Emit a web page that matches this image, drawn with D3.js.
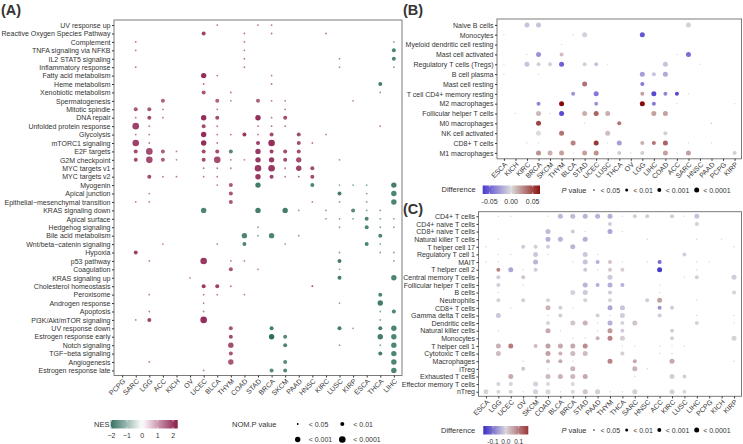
<!DOCTYPE html>
<html>
<head>
<meta charset="utf-8">
<title>GSEA and immune infiltration dot plots</title>
<script src="https://d3js.org/d3.v7.min.js"></script>
<style>
  body { margin: 0; background: #fff; }
  svg text { font-family: "Liberation Sans", Arial, sans-serif; fill: #333; }
</style>
</head>
<body>
<div id="chart"></div>
<script>

// ---- panel A: hallmark GSEA (NES, NOM p) ----
const hallmarks = ["UV response up","Reactive Oxygen Species Pathway","Complement","TNFA signaling via NFKB",
  "IL2 STAT5 signaling","Inflammatory response","Fatty acid metabolism","Heme metabolism","Xenobiotic metabolism",
  "Spermatogenesis","Mitotic spindle","DNA repair","Unfolded protein response","Glycolysis","mTORC1 signaling",
  "E2F targets","G2M checkpoint","MYC targets v1","MYC targets v2","Myogenin","Apical junction",
  "Epithelial\u2212mesenchymal transition","KRAS signaling down","Apical surface","Hedgehog signaling",
  "Bile acid metabolism","Wnt/beta\u2212catenin signaling","Hypoxia","p53 pathway","Coagulation","KRAS signaling up",
  "Cholesterol homeostasis","Peroxisome","Androgen response","Apoptosis","PI3K/Akt/mTOR signaling","UV response down",
  "Estrogen response early","Notch signaling","TGF\u2212beta signaling","Angiogenesis","Estrogen response late"];
const nesCancers = ["PCPG","SARC","LGG","ACC","KICH","OV","UCEC","BLCA","THYM","COAD","STAD","BRCA","SKCM",
  "PAAD","HNSC","KIRC","LUSC","KIRP","ESCA","THCA","LIHC"];
// [pathway index, cancer, NES, p class 1:<0.05 2:<0.01 3:<0.001 4:<0.0001]
const nesPoints = [
  [0,"BLCA",1.4,1],[0,"STAD",1.4,1],[0,"BRCA",1.4,1],
  [1,"UCEC",1.9,2],[1,"COAD",1.4,1],[1,"BRCA",1.4,1],[1,"KIRC",1.4,1],
  [2,"SARC",1.4,1],[2,"COAD",1.4,1],[2,"LIHC",-1.3,1],
  [3,"SARC",1.4,1],[3,"COAD",1.4,1],[3,"LIHC",-1.8,2],
  [4,"COAD",1.4,1],[4,"LUSC",-1.3,1],[4,"LIHC",-1.8,2],
  [5,"SARC",1.4,1],[5,"COAD",1.4,1],[5,"LUSC",-1.3,1],[5,"LIHC",-1.3,1],
  [6,"UCEC",2.1,3],[6,"BLCA",1.4,1],[6,"BRCA",1.4,1],
  [7,"UCEC",1.5,1],[7,"BRCA",1.4,1],[7,"THCA",-1.9,2],
  [8,"UCEC",1.7,2],[8,"THYM",1.4,1],[8,"THCA",-1.3,1],
  [9,"ACC",1.6,2],[9,"BLCA",1.6,2],[9,"THYM",1.3,1],[9,"STAD",1.6,2],[9,"BRCA",1.4,1],[9,"SKCM",1.4,1],[9,"KIRP",1.3,1],
  [10,"SARC",1.7,2],[10,"LGG",1.7,2],[10,"ACC",1.4,1],[10,"BLCA",1.4,1],[10,"SKCM",1.4,1],
  [11,"SARC",1.4,1],[11,"LGG",1.8,2],[11,"ACC",1.4,1],[11,"UCEC",2.1,3],[11,"BLCA",1.8,2],[11,"STAD",2.1,3],[11,"BRCA",1.4,1],[11,"SKCM",1.8,2],
  [12,"SARC",1.9,4],[12,"LGG",1.4,1],[12,"UCEC",1.8,2],[12,"BLCA",1.4,1],[12,"STAD",1.4,1],[12,"BRCA",1.4,1],[12,"SKCM",1.4,1],[12,"THCA",1.3,1],
  [13,"SARC",1.4,1],[13,"LGG",1.4,1],[13,"UCEC",2.1,3],[13,"BLCA",1.4,1],[13,"THYM",1.4,1],[13,"COAD",2.0,2],[13,"STAD",1.4,1],[13,"BRCA",1.8,2],[13,"PAAD",1.8,2],[13,"KIRC",1.3,1],
  [14,"SARC",1.9,4],[14,"LGG",1.4,1],[14,"UCEC",2.1,3],[14,"BLCA",1.4,1],[14,"STAD",1.9,2],[14,"BRCA",2.1,4],[14,"PAAD",1.8,2],[14,"HNSC",1.4,1],
  [15,"SARC",1.8,2],[15,"LGG",1.8,4],[15,"ACC",1.6,2],[15,"KICH",1.3,1],[15,"UCEC",1.8,2],[15,"BLCA",1.8,2],[15,"THYM",-1.7,2],[15,"STAD",2.0,3],[15,"BRCA",1.9,2],[15,"SKCM",1.8,2],[15,"PAAD",1.8,2],
  [16,"SARC",1.8,2],[16,"LGG",1.8,4],[16,"ACC",1.6,2],[16,"KICH",1.3,1],[16,"UCEC",1.8,2],[16,"BLCA",1.8,4],[16,"THYM",1.3,1],[16,"COAD",1.3,1],[16,"STAD",2.0,3],[16,"BRCA",2.0,3],[16,"SKCM",1.8,2],[16,"PAAD",1.8,3],[16,"LUSC",1.3,1],
  [17,"UCEC",1.4,1],[17,"BLCA",1.4,1],[17,"THYM",1.3,1],[17,"STAD",2.0,4],[17,"BRCA",2.0,4],[17,"SKCM",1.4,1],[17,"PAAD",1.9,3],[17,"HNSC",1.8,2],
  [18,"LGG",1.8,2],[18,"ACC",1.4,1],[18,"KICH",1.4,1],[18,"UCEC",1.4,1],[18,"BLCA",1.4,1],[18,"STAD",2.0,3],[18,"BRCA",1.9,2],[18,"SKCM",1.4,1],[18,"PAAD",1.5,1],[18,"HNSC",1.8,2],
  [19,"BLCA",1.3,1],[19,"THYM",1.7,2],[19,"STAD",-1.9,3],[19,"HNSC",-1.8,2],[19,"LUSC",-1.3,1],[19,"KIRP",-1.3,1],[19,"ESCA",-1.3,1],[19,"LIHC",-1.9,3],
  [20,"LGG",1.3,1],[20,"THYM",1.7,2],[20,"LUSC",-1.9,2],[20,"ESCA",-1.3,1],[20,"LIHC",-1.8,3],
  [21,"SARC",1.3,1],[21,"LGG",1.3,1],[21,"THYM",1.7,2],[21,"HNSC",1.3,1],[21,"LUSC",-1.3,1],[21,"ESCA",-1.3,1],[21,"LIHC",-1.8,3],
  [22,"UCEC",-1.8,3],[22,"STAD",-1.9,3],[22,"SKCM",-1.9,3],[22,"PAAD",-1.3,1],[22,"KIRC",-1.3,1],[22,"KIRP",-1.7,2],[22,"ESCA",-1.3,1],[22,"THCA",-1.3,1],
  [23,"KIRC",-1.3,1],[23,"LUSC",-1.3,1],[23,"KIRP",-1.3,1],[23,"ESCA",-1.8,2],[23,"THCA",-1.3,1],[23,"LIHC",-1.3,1],
  [24,"STAD",-1.3,1],[24,"LUSC",-1.3,1],[24,"ESCA",-1.8,2],[24,"THCA",-1.3,1],[24,"LIHC",-1.3,1],
  [25,"COAD",-1.8,3],[25,"STAD",-1.3,1],[25,"BRCA",-1.8,3],[25,"PAAD",-1.3,1],[25,"THCA",-1.8,2],
  [26,"ACC",1.3,1],[26,"BLCA",1.3,1],[26,"COAD",-1.8,2],[26,"SKCM",-1.3,1],[26,"ESCA",-1.8,2],[26,"THCA",-1.3,1],
  [27,"SARC",1.9,2],[27,"LUSC",-1.3,1],[27,"THCA",-1.3,1],[27,"LIHC",-1.3,1],
  [28,"LGG",1.3,1],[28,"UCEC",2.0,4],[28,"THYM",1.3,1],[28,"COAD",1.3,1],[28,"LUSC",-1.9,2],[28,"LIHC",-1.3,1],
  [29,"THYM",1.7,2],[29,"STAD",1.3,1],[29,"LUSC",-1.3,1],
  [30,"OV",1.3,1],[30,"LUSC",-1.9,2],[30,"LIHC",-1.8,3],
  [31,"UCEC",2.0,2],[31,"BLCA",1.9,2],[31,"THYM",1.4,1],[31,"HNSC",1.9,1],
  [32,"LGG",1.3,1],[32,"UCEC",1.4,1],[32,"BLCA",1.3,1],[32,"COAD",1.3,1],[32,"THCA",-1.8,2],
  [33,"UCEC",1.4,1],[33,"LUSC",-1.3,1],[33,"THCA",-1.9,3],
  [34,"LGG",1.3,1],[34,"UCEC",1.3,1],[34,"THCA",-1.3,1],[34,"LIHC",-1.8,2],
  [35,"SARC",1.3,1],[35,"LGG",1.9,2],[35,"UCEC",2.1,4],[35,"THCA",-1.3,1],
  [36,"THYM",1.7,2],[36,"BRCA",-1.9,2],[36,"LUSC",-1.9,2],[36,"KIRP",-1.3,1],[36,"THCA",-1.9,2],[36,"LIHC",-1.8,3],
  [37,"THYM",1.8,2],[37,"BRCA",-2.1,3],[37,"SKCM",-1.7,2],[37,"THCA",-1.9,3],[37,"LIHC",-1.8,3],
  [38,"THYM",1.8,3],[38,"SKCM",-1.8,2],[38,"LUSC",-1.3,1],[38,"THCA",-1.3,1],[38,"LIHC",-1.8,3],
  [39,"THYM",1.7,2],[39,"THCA",-1.9,2],[39,"LIHC",-1.8,3],
  [40,"LGG",1.3,1],[40,"THYM",1.7,3],[40,"SKCM",-1.7,2],[40,"LIHC",-1.8,3],
  [41,"UCEC",1.3,1],[41,"BRCA",-1.7,2],[41,"SKCM",-1.7,2],[41,"LIHC",-1.8,3]
];
const nesTicks = [-2,-1,0,1,2];
const pLabels = ["< 0.05","< 0.01","< 0.001","< 0.0001"];

// ---- panel B: CIBERSORT difference ----
const cibersortCells = ["Naive B cells","Monocytes","Myeloid dendritic cell resting","Mast cell activated",
  "Regulatory T cells (Tregs)","B cell plasma","Mast cell resting","T cell CD4+ memory resting","M2 macrophages",
  "Follicular helper T cells","M0 macrophages","NK cell activated","CD8+ T cells","M1 macrophages"];
const cibersortCancers = ["ESCA","KICH","KIRC","BRCA","SKCM","THYM","BLCA","STAD","UCEC","LUSC","THCA","OV",
  "LGG","LIHC","COAD","ACC","SARC","HNSC","PAAD","PCPG","KIRP"];
const cibersortPoints = [
  [0,"KIRC",-0.01,4],[0,"BRCA",-0.01,4],[0,"SARC",-0.005,4],
  [1,"ESCA",0,1],[1,"BLCA",0,1],[1,"STAD",-0.005,4],[1,"LGG",-0.055,4],
  [2,"THYM",0,1],
  [3,"KIRC",0,1],[3,"BRCA",-0.03,4],[3,"THYM",0.01,3],[3,"ACC",0,1],[3,"SARC",-0.045,4],
  [4,"ESCA",0,1],[4,"KIRC",-0.01,4],[4,"BRCA",-0.005,3],[4,"SKCM",-0.005,3],[4,"THYM",-0.05,4],[4,"STAD",-0.005,3],[4,"UCEC",-0.01,3],[4,"LUSC",0,1],[4,"COAD",-0.01,4],[4,"HNSC",0,1],
  [5,"ESCA",0,1],[5,"BRCA",0,1],[5,"LGG",-0.025,4],[5,"LIHC",-0.01,3],[5,"COAD",-0.02,4],
  [6,"STAD",0.035,4],[6,"LGG",-0.04,3],
  [7,"BLCA",-0.03,3],[7,"UCEC",-0.04,4],[7,"LGG",0.02,3],[7,"LIHC",-0.06,4],[7,"COAD",-0.035,3],[7,"ACC",-0.06,3],[7,"SARC",0,1],
  [8,"BRCA",-0.035,3],[8,"THYM",0.07,4],[8,"UCEC",-0.03,3],[8,"LGG",0.07,4],[8,"LIHC",-0.04,3],[8,"ACC",0,1],[8,"KIRP",0,1],
  [9,"KICH",0,1],[9,"BRCA",0.012,4],[9,"SKCM",0,1],[9,"THYM",-0.06,4],[9,"STAD",0.015,4],[9,"UCEC",0.04,4],[9,"LUSC",0.015,4],[9,"LIHC",0.02,4],[9,"COAD",0.02,4],
  [10,"BRCA",0.05,4],[10,"STAD",0,1],[10,"THCA",0.035,3],[10,"PAAD",0.01,1],
  [11,"BRCA",0,4],[11,"THYM",0.035,4],[11,"LUSC",0.01,4],[11,"COAD",0.005,3],
  [12,"KIRC",0,1],[12,"BRCA",0,1],[12,"BLCA",0.03,4],[12,"UCEC",0.055,4],[12,"LUSC",0,1],[12,"THCA",-0.025,4],[12,"LGG",0.015,3],[12,"LIHC",0.035,3],[12,"COAD",0.04,4],[12,"SARC",0,1],[12,"PAAD",0,1],
  [13,"BRCA",0.025,4],[13,"SKCM",0.015,4],[13,"THYM",0.02,4],[13,"BLCA",0,1],[13,"STAD",0.02,4],[13,"UCEC",0.025,4],[13,"LUSC",0,1],[13,"THCA",0.005,3],[13,"OV",0,1],[13,"LGG",0.005,3],[13,"COAD",0.02,4],[13,"ACC",0,1],[13,"SARC",0.02,4],[13,"KIRP",0.005,3]
];
const diffTicksB = [-0.05,0,0.05];

// ---- panel C: immune cell (ImmuCellAI) difference ----
const immuneCells = ["CD4+ T cells","CD4+ naive T cells","CD8+ naive T cells","Natural killer T cells",
  "T helper cell 17","Regulatory T cell 1","MAIT","T helper cell 2","Central memory T cells",
  "Follicular helper T cells","B cells","Neutrophils","CD8+ T cells","Gamma delta T cells","Dendritic cells",
  "Natural killer cells","Monocytes","T helper cell 1","Cytotoxic T cells","Macrophages","iTreg",
  "Exhausted T cells","Effector memory T cells","nTreg"];
const immuneCancers = ["ESCA","LGG","UCEC","OV","SKCM","COAD","BLCA","BRCA","STAD","PAAD","THYM","THCA",
  "SARC","HNSC","ACC","KIRC","LUSC","LIHC","PCPG","KICH","KIRP"];
const immunePoints = [
  [0,"LGG",0,1],[0,"UCEC",0,1],[0,"COAD",0,1],[0,"BLCA",-0.03,4],[0,"BRCA",-0.03,4],[0,"STAD",-0.035,4],[0,"PAAD",-0.035,4],[0,"THYM",-0.04,4],[0,"THCA",0,1],[0,"SARC",-0.01,3],[0,"HNSC",-0.01,3],[0,"KIRC",-0.01,3],[0,"LUSC",0,1],[0,"LIHC",-0.02,4],
  [1,"THYM",-0.01,3],[1,"LIHC",0.01,3],
  [2,"COAD",-0.03,4],[2,"BRCA",-0.01,3],[2,"STAD",0,1],[2,"THYM",-0.05,4],[2,"THCA",0,1],
  [3,"LGG",0,1],[3,"COAD",-0.04,4],[3,"BLCA",-0.035,4],[3,"STAD",-0.04,4],[3,"HNSC",0,1],[3,"LIHC",0,1],[3,"KICH",0,1],
  [4,"ESCA",0,1],[4,"OV",-0.01,3],[4,"SKCM",-0.01,3],[4,"COAD",-0.01,3],[4,"BRCA",-0.035,4],[4,"KIRP",0,1],
  [5,"LGG",0,1],[5,"UCEC",0,1],[5,"SKCM",-0.015,4],[5,"COAD",0,1],[5,"STAD",-0.015,4],[5,"PAAD",0,1],[5,"LUSC",-0.01,3],
  [6,"ESCA",0,1],[6,"LGG",0,1],[6,"SKCM",-0.035,4],[6,"BRCA",0,1],[6,"STAD",-0.02,4],[6,"PAAD",-0.04,3],[6,"THYM",0.02,3],[6,"THCA",0,1],[6,"HNSC",0,1],[6,"ACC",-0.11,3],[6,"LIHC",0,1],[6,"PCPG",0,1],
  [7,"LGG",0.09,3],[7,"UCEC",-0.05,4],[7,"OV",0,1],[7,"SKCM",-0.01,3],[7,"STAD",-0.015,3],[7,"PAAD",0,1],[7,"THYM",0.02,3],[7,"THCA",0.01,3],[7,"ACC",-0.16,4],[7,"LIHC",0,1],
  [8,"LGG",-0.01,3],[8,"OV",0.02,3],[8,"THYM",-0.015,4],[8,"LUSC",0,1],[8,"LIHC",0.01,3],[8,"KIRP",-0.01,4],
  [9,"LGG",-0.01,3],[9,"OV",0,1],[9,"STAD",-0.035,4],[9,"PAAD",-0.04,3],[9,"THYM",-0.04,4],[9,"THCA",-0.04,3],[9,"ACC",0,1],
  [10,"LGG",0,1],[10,"BRCA",-0.005,4],[10,"STAD",-0.015,4],[10,"THYM",-0.01,3],[10,"ACC",0,1],[10,"KIRP",-0.005,3],
  [11,"LGG",-0.005,3],[11,"OV",0.01,3],[11,"COAD",-0.005,3],[11,"STAD",-0.005,3],[11,"THYM",-0.005,3],[11,"HNSC",-0.01,3],[11,"ACC",0.06,4],[11,"LIHC",0,1],
  [12,"UCEC",0,1],[12,"COAD",0.04,4],[12,"BLCA",-0.01,3],[12,"BRCA",0,1],[12,"THYM",-0.05,4],[12,"THCA",-0.02,4],[12,"ACC",-0.07,3],[12,"KIRC",-0.01,3],
  [13,"LGG",-0.015,4],[13,"COAD",0,1],[13,"BLCA",-0.01,3],[13,"PAAD",0.01,3],[13,"THYM",0,1],[13,"THCA",-0.01,4],[13,"ACC",-0.01,3],[13,"LIHC",0,1],[13,"KIRP",0,1],
  [14,"COAD",-0.005,3],[14,"BRCA",0.02,4],[14,"STAD",0.04,4],[14,"PAAD",0,1],[14,"THYM",-0.04,4],[14,"THCA",-0.005,3],[14,"SARC",0.02,4],[14,"LIHC",-0.005,3],[14,"KIRP",0,1],
  [15,"LGG",0,1],[15,"COAD",0.05,4],[15,"BLCA",0,1],[15,"PAAD",0,1],[15,"THYM",0.07,4],[15,"THCA",-0.01,3],[15,"KIRC",0.01,3],
  [16,"BRCA",0,1],[16,"STAD",0,1],[16,"PAAD",0.04,3],[16,"THYM",0.09,4],[16,"THCA",0.01,4],[16,"KIRC",0.005,3],[16,"KIRP",0.005,4],
  [17,"LGG",0.04,4],[17,"UCEC",0.1,4],[17,"SKCM",0.03,3],[17,"COAD",0.06,4],[17,"BLCA",0.05,4],[17,"BRCA",0.05,4],[17,"STAD",0.08,4],[17,"THCA",0,1],[17,"SARC",0,1],[17,"ACC",0,1],[17,"KIRC",0,1],[17,"LUSC",0,1],
  [18,"LGG",0.03,4],[18,"COAD",0.06,4],[18,"BLCA",0.04,3],[18,"BRCA",0.03,4],[18,"STAD",0.03,4],[18,"THCA",0.01,3],[18,"ACC",0,1],[18,"KIRC",0,1],
  [19,"OV",0,1],[19,"COAD",0.04,3],[19,"BLCA",0.05,3],[19,"BRCA",0,1],[19,"THYM",0.09,4],[19,"SARC",0.05,3],[19,"KIRC",0.05,4],[19,"KIRP",0,1],
  [20,"OV",0.02,3],[20,"COAD",0,1],[20,"BRCA",0.04,4],[20,"SARC",0.04,4],[20,"HNSC",0,1],
  [21,"UCEC",0.05,4],[21,"COAD",0.03,4],[21,"BLCA",0.04,4],[21,"BRCA",0.035,4],[21,"STAD",0.05,4],[21,"SARC",0,1],[21,"KIRC",0.01,4],[21,"LUSC",0.01,3],
  [22,"LGG",-0.005,3],[22,"UCEC",0.005,3],[22,"SKCM",-0.005,4],[22,"COAD",0,3],[22,"BRCA",0,3],
  [23,"ESCA",-0.005,4],[23,"LGG",0,3],[23,"UCEC",0.005,3],[23,"OV",0,1],[23,"SKCM",-0.005,4],[23,"COAD",0,4],[23,"BLCA",0,1],[23,"BRCA",0,3],[23,"STAD",0.02,4],[23,"PAAD",0.01,4],[23,"THYM",0,1],[23,"THCA",0,1],[23,"SARC",0.01,4],[23,"KIRC",0.005,4],[23,"LUSC",0,3]
];
const diffTicksC = [-0.1,0,0.1];

const width = 743, height = 444;
const svg = d3.select("#chart").append("svg")
    .attr("width", width)
    .attr("height", height);

const nesColor = d3.scaleLinear().domain([-2.1, 0, 2.3]).range(["#2f6f5f", "#ffffff", "#8a1a4a"]);
const diffColorB = d3.scaleLinear().domain([-0.066, 0, 0.067]).range(["#4a3bd0", "#dcdcdc", "#8b1212"]);
const diffColorC = d3.scaleLinear().domain([-0.175, 0, 0.175]).range(["#3a2cc6", "#d9d7dc", "#9a3636"]);
const radiusA = d3.scaleOrdinal().domain([1,2,3,4]).range([0.9, 2.0, 2.7, 3.3]);
const radiusBC = d3.scaleOrdinal().domain([1,2,3,4]).range([0.75, 1.5, 2.0, 2.5]);

function dotPanel(rows, cols, points, box, color, radius) {
  const x = d3.scalePoint().domain(cols).range([box.x0, box.x1]).padding(0.6);
  const y = d3.scalePoint().domain(rows).range([box.y0, box.y1]).padding(0.6);
  const g = svg.append("g");

  g.append("rect")
      .attr("x", box.x0).attr("y", box.y0)
      .attr("width", box.x1 - box.x0).attr("height", box.y1 - box.y0)
      .attr("fill", "#fff").attr("stroke", "#6e6e6e").attr("stroke-width", 0.9);

  const left = g.append("g")
      .attr("transform", `translate(${box.x0},0)`)
      .call(d3.axisLeft(y).tickSize(2).tickPadding(1.5));
  left.select(".domain").remove();
  left.selectAll("line").attr("stroke", "#333");
  left.selectAll("text").attr("font-size", 7).attr("fill", "#333");

  const bottom = g.append("g")
      .attr("transform", `translate(0,${box.y1})`)
      .call(d3.axisBottom(x).tickSize(2));
  bottom.select(".domain").remove();
  bottom.selectAll("line").attr("stroke", "#333");
  bottom.selectAll("text")
      .attr("font-size", 7).attr("fill", "#333")
      .attr("x", 0).attr("y", 0).attr("dy", "0.35em")
      .attr("text-anchor", "end")
      .attr("transform", "translate(1.5,4.5) rotate(-45)");

  g.append("g").selectAll("circle")
    .data(points)
    .join("circle")
      .attr("cx", d => x(d[1]))
      .attr("cy", d => y(rows[d[0]]))
      .attr("r", d => radius(d[3]))
      .attr("fill", d => color(d[2]));
}

dotPanel(hallmarks, nesCancers, nesPoints, {x0: 114, x1: 402, y0: 20, y1: 375.5}, nesColor, radiusA);
dotPanel(cibersortCells, cibersortCancers, cibersortPoints, {x0: 497, x1: 741.5, y0: 19, y1: 158.8}, diffColorB, radiusBC);
dotPanel(immuneCells, immuneCancers, immunePoints, {x0: 478.5, x1: 741.5, y0: 211.7, y1: 396.3}, diffColorC, radiusBC);

// panel tags
[["(A)", 1, 15], ["(B)", 403, 15], ["(C)", 403, 214]].forEach(t => {
  svg.append("text").attr("x", t[1]).attr("y", t[2])
     .attr("font-size", 14.5).attr("font-weight", "bold").attr("fill", "#000").text(t[0]);
});

// colour bar legend
let gradId = 0;
function colorBar(title, titleX, color, domain, ticks, fmt, bx, by, bw, bh, fs) {
  const id = "grad" + (gradId++);
  const grad = svg.append("defs").append("linearGradient").attr("id", id);
  d3.range(0, 1.0001, 0.05).forEach(t => {
    grad.append("stop").attr("offset", t).attr("stop-color", color(domain[0] + t * (domain[1] - domain[0])));
  });
  const s = d3.scaleLinear().domain(domain).range([bx, bx + bw]);
  svg.append("text").attr("x", titleX).attr("y", by + bh / 2 + 2.6).attr("font-size", 7.5).text(title);
  svg.append("rect").attr("x", bx).attr("y", by).attr("width", bw).attr("height", bh).attr("fill", `url(#${id})`);
  ticks.forEach(v => {
    svg.append("line").attr("x1", s(v)).attr("x2", s(v)).attr("y1", by + bh - 1.6).attr("y2", by + bh)
       .attr("stroke", "#fff").attr("stroke-width", 0.6);
    svg.append("line").attr("x1", s(v)).attr("x2", s(v)).attr("y1", by).attr("y2", by + 1.6)
       .attr("stroke", "#fff").attr("stroke-width", 0.6);
    svg.append("text").attr("x", s(v)).attr("y", by + bh + 9.5).attr("font-size", fs)
       .attr("text-anchor", "middle").text(fmt(v));
  });
}

const hyphen = f => v => f(v).replace("\u2212", "-");
colorBar("NES", 94, nesColor, [-2.05, 2.3], nesTicks, d3.format("d"), 110.7, 420, 67, 8.5, 7);
colorBar("Difference", 441.5, diffColorB, [-0.066, 0.067], diffTicksB, hyphen(d3.format(".2f")), 482.7, 185.5, 57.3, 8.5, 7);
colorBar("Difference", 441, diffColorC, [-0.175, 0.175], diffTicksC, hyphen(d3.format(".1f")), 483.3, 426, 45, 8.5, 6.5);

// p value legends
svg.append("text").attr("x", 232).attr("y", 427).attr("font-size", 7.5).text("NOM.P value");
const pA = [[297.7, 424], [342.3, 424], [297.7, 439.5], [342.3, 439.5]];
pLabels.forEach((lab, i) => {
  svg.append("circle").attr("cx", pA[i][0]).attr("cy", pA[i][1]).attr("r", radiusA(i + 1)).attr("fill", "#000");
  svg.append("text").attr("x", pA[i][0] + 11).attr("y", pA[i][1] + 2.5).attr("font-size", 7).text(lab);
});

function pRow(py) {
  const t = svg.append("text").attr("x", 561.5).attr("y", py + 2.5).attr("font-size", 7.5);
  t.append("tspan").attr("font-style", "italic").text("P");
  t.append("tspan").text(" value");
  const xs = [594, 626.7, 659.3, 696.7];
  pLabels.forEach((lab, i) => {
    svg.append("circle").attr("cx", xs[i]).attr("cy", py).attr("r", radiusBC(i + 1)).attr("fill", "#000");
    svg.append("text").attr("x", xs[i] + 6.5).attr("y", py + 2.5).attr("font-size", 7).text(lab);
  });
}
pRow(190);
pRow(430);

</script>
</body>
</html>
